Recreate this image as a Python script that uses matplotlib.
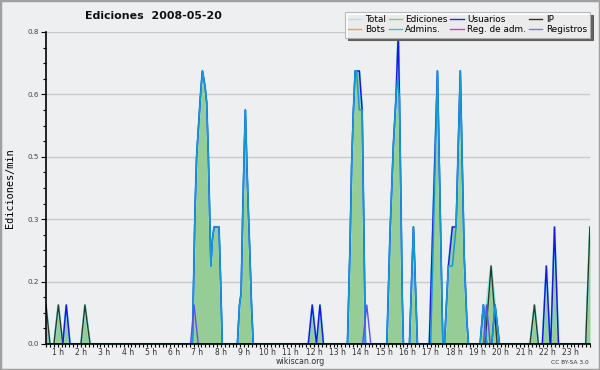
import matplotlib
matplotlib.use("Agg")
import matplotlib.pyplot as plt
from matplotlib.lines import Line2D
from matplotlib.patches import Rectangle
from matplotlib.ticker import MultipleLocator, FormatStrFormatter
import numpy as np

# Ediciones (= Total) - hora, ediciones/min
ed_t = [0.50, 0.67, 0.84, 1.03, 1.22, 1.37, 1.53, 2.00, 2.17, 2.39,
        6.78, 6.89, 6.96, 7.14, 7.21, 7.32, 7.39, 7.46, 7.54, 7.57, 7.64, 7.71, 7.92, 7.99, 8.06,
        8.71, 8.80, 8.87, 8.94, 9.01, 9.05, 9.11, 9.18, 9.25, 9.32, 9.39,
        11.75, 11.92, 12.10, 12.25, 12.40,
        13.43, 13.54, 13.61, 13.68, 13.76, 13.94, 14.06, 14.12, 14.20,
        15.12, 15.26, 15.40, 15.51, 15.61, 15.66, 15.72, 15.78, 15.83,
        16.09, 16.26, 16.43,
        16.94, 17.29, 17.52, 17.59, 17.76, 17.93, 18.09, 18.27, 18.35, 18.44, 18.55, 18.62,
        19.12, 19.26, 19.40, 19.59, 19.76, 19.95,
        21.26, 21.45, 21.62, 21.79, 21.96, 22.12, 22.15, 22.31, 22.48,
        23.65, 23.83]
ed_v = [0.10, 0, 0, 0.10, 0, 0.10, 0, 0, 0.10, 0,
        0, 0.34, 0.48, 0.65, 0.70, 0.66, 0.62, 0.49, 0.28, 0.20, 0.27, 0.30, 0.30, 0.16, 0,
        0, 0.10, 0.13, 0.34, 0.51, 0.60, 0.47, 0.34, 0.22, 0.09, 0,
        0, 0.10, 0, 0.10, 0,
        0, 0.25, 0.46, 0.59, 0.70, 0.70, 0.60, 0.35, 0,
        0, 0.29, 0.51, 0.63, 0.80, 0.63, 0.38, 0.12, 0,
        0, 0.30, 0,
        0, 0.70, 0, 0, 0.20, 0.30, 0.30, 0.70, 0.47, 0.22, 0.06, 0,
        0, 0.10, 0.10, 0.20, 0.10, 0,
        0, 0.10, 0, 0, 0.20, 0, 0, 0.30, 0,
        0, 0.30]

# Usuarios
us_t = [0.50, 1.22, 1.37, 1.53,
        6.78, 6.89, 6.96, 7.14, 7.21, 7.32, 7.39, 7.46, 7.54, 7.57, 7.64, 7.71, 7.92, 7.99, 8.06,
        8.71, 8.80, 8.87, 8.94, 9.01, 9.05, 9.11, 9.18, 9.25, 9.32, 9.39,
        11.75, 11.92, 12.10, 12.25, 12.40,
        13.43, 13.54, 13.61, 13.68, 13.76, 13.94, 14.06, 14.12, 14.20,
        15.12, 15.26, 15.40, 15.51, 15.61, 15.66, 15.72, 15.78, 15.83,
        16.09, 16.26, 16.43,
        16.94, 17.29, 17.52, 17.59, 17.76, 17.93, 18.09, 18.27, 18.35, 18.44, 18.55, 18.62,
        19.12, 19.26, 19.40, 19.62, 19.76, 19.95,
        21.79, 21.96, 22.12, 22.15, 22.31, 22.48, 23.83]
us_v = [0, 0, 0.10, 0,
        0, 0.34, 0.48, 0.65, 0.70, 0.66, 0.62, 0.49, 0.28, 0.20, 0.27, 0.30, 0.30, 0.16, 0,
        0, 0.10, 0.13, 0.34, 0.51, 0.60, 0.47, 0.34, 0.22, 0.09, 0,
        0, 0.10, 0, 0.10, 0,
        0, 0.25, 0.46, 0.59, 0.70, 0.70, 0.60, 0.35, 0,
        0, 0.29, 0.51, 0.63, 0.80, 0.63, 0.38, 0.12, 0,
        0, 0.30, 0,
        0, 0.70, 0, 0, 0.20, 0.30, 0.30, 0.70, 0.47, 0.22, 0.06, 0,
        0, 0.10, 0, 0, 0.10, 0,
        0, 0.20, 0, 0, 0.30, 0, 0]

# Admins.
ad_t = [0.50,
        6.78, 6.89, 6.96, 7.14, 7.21, 7.32, 7.39, 7.46, 7.54, 7.57, 7.64, 7.71, 7.92, 7.99, 8.06,
        8.71, 8.80, 8.87, 8.94, 9.01, 9.05, 9.11, 9.18, 9.25, 9.32, 9.39,
        13.43, 13.54, 13.61, 13.68, 13.76, 13.82, 13.94, 14.06, 14.12, 14.20,
        15.12, 15.26, 15.40, 15.51, 15.58, 15.66, 15.72, 15.78, 15.83,
        16.09, 16.26, 16.43,
        17.00, 17.29, 17.52, 17.59, 17.76, 17.93, 18.09, 18.27, 18.35, 18.44, 18.55, 18.62,
        19.12, 19.26, 19.40, 19.62, 19.76, 19.95, 23.83]
ad_v = [0,
        0, 0.34, 0.48, 0.65, 0.70, 0.66, 0.62, 0.49, 0.28, 0.20, 0.27, 0.30, 0.30, 0.16, 0,
        0, 0.10, 0.13, 0.34, 0.51, 0.60, 0.47, 0.34, 0.22, 0.09, 0,
        0, 0.25, 0.46, 0.59, 0.70, 0.70, 0.60, 0.60, 0.35, 0,
        0, 0.29, 0.51, 0.63, 0.68, 0.63, 0.38, 0.12, 0,
        0, 0.30, 0,
        0, 0.70, 0, 0, 0.20, 0.20, 0.30, 0.70, 0.47, 0.22, 0.06, 0,
        0, 0.10, 0, 0, 0.10, 0, 0]

# IP
ip_t = [0.50, 0.67, 0.84, 1.03, 1.22, 2.00, 2.17, 2.39,
        19.33, 19.59, 19.85, 21.26, 21.45, 21.62, 23.65, 23.83]
ip_v = [0.10, 0, 0, 0.10, 0, 0, 0.10, 0,
        0, 0.20, 0, 0, 0.10, 0, 0, 0.30]

# Registros
reg_t = [0.50, 6.70, 6.85, 7.03, 14.08, 14.26, 14.43, 19.26, 19.40, 19.55, 23.83]
reg_v = [0, 0, 0.10, 0, 0, 0.10, 0, 0, 0.10, 0, 0]

hours = list(range(1, 24))
hour_labels = [f"{h} h" for h in hours]

series_names = ["Total", "Bots", "Ediciones", "Admins.", "Usuarios", "Reg. de adm.", "IP", "Registros"]
series_colors = ["#a8e4ee", "#f0a040", "#80cc80", "#40bce0", "#2a2ad8", "#d040d0", "#303030", "#7878f0"]

bg = "#eeeff1"
fig = plt.figure(figsize=(6, 3.7), dpi=100)
fig.patch.set_facecolor(bg)
ax = fig.add_axes([46 / 600, 1 - 344 / 370, 544 / 600, 312 / 370])
ax.set_facecolor(bg)

ax.fill_between(ed_t, ed_v, color="#96cd96", lw=0, zorder=2)
ax.plot(ed_t, ed_v, color="#6cbf6c", lw=1.0, zorder=3)
ax.plot(ed_t, ed_v, color="#8eeaf4", lw=1.6, zorder=3)
ax.plot(ip_t, ip_v, color="#283c28", lw=1.0, zorder=4)
ax.plot(us_t, us_v, color="#1818e0", lw=1.1, zorder=5)
ax.plot(ad_t, ad_v, color="#1898d4", lw=1.1, zorder=6)
ax.plot(reg_t, reg_v, color="#5a50f0", lw=1.0, zorder=6)

ax.set_xlim(0.5, 23.8333)
ax.set_ylim(0, 0.8)

ax.set_yticks(np.linspace(0, 0.8, 6))
ax.yaxis.set_major_formatter(FormatStrFormatter("%.1f"))
ax.yaxis.set_minor_locator(MultipleLocator(0.04))
ax.grid(axis="y", which="major", color="#cacaca", lw=1.0, zorder=0)

ax.set_xticks(hours)
ax.set_xticklabels(hour_labels)
ax.set_xticks(np.arange(0.5, 23.84, 1 / 6), minor=True)

for s in ["top", "right"]:
    ax.spines[s].set_visible(False)
for s in ["left", "bottom"]:
    ax.spines[s].set_linewidth(1.2)
    ax.spines[s].set_zorder(10)

ax.tick_params(axis="x", which="both", length=2.5, width=0.8, pad=0.5,
               labelsize=5.5, labelcolor="#333333")
ax.tick_params(axis="y", which="major", length=3.8, width=0.8, pad=1,
               labelsize=5.2, labelcolor="#444444")
ax.tick_params(axis="y", which="minor", length=2.2, width=0.8)

fig.text(0.256, 1 - 16 / 370, "Ediciones  2008-05-20", fontsize=7.9,
         fontweight="bold", ha="center", va="center", color="#111111")
fig.text(10 / 600, 1 - 188 / 370, "Ediciones/min", family="DejaVu Sans Mono",
         fontsize=7.4, rotation=90, ha="center", va="center")
fig.text(300.5 / 600, 1 - 361.5 / 370, "wikiscan.org", fontsize=5.7,
         ha="center", va="center", color="#333333")
fig.text(589 / 600, 1 - 362.5 / 370, "CC BY-SA 3.0", fontsize=4.2,
         ha="right", va="center", color="#333333")

handles = [Line2D([], [], color=c, lw=1.0) for c in series_colors]
leg = fig.legend(handles, series_names, ncol=4, loc="upper right",
                 bbox_to_anchor=(590 / 600, 1 - 12 / 370), fontsize=6.4,
                 frameon=True, fancybox=False, shadow={"color": "#606060", "alpha": 1},
                 handlelength=1.5, handletextpad=0.4, columnspacing=0.3,
                 labelspacing=0.15, borderpad=0.35, borderaxespad=0, framealpha=0.88)
leg.get_frame().set_edgecolor("#b0b0b0")
leg.get_frame().set_linewidth(0.8)

fig.add_artist(Rectangle((0, 0), 1, 1, transform=fig.transFigure, fill=False,
                         edgecolor="#a0a0a0", lw=2.5))

fig.savefig("out.png", dpi=100, facecolor=fig.get_facecolor())
